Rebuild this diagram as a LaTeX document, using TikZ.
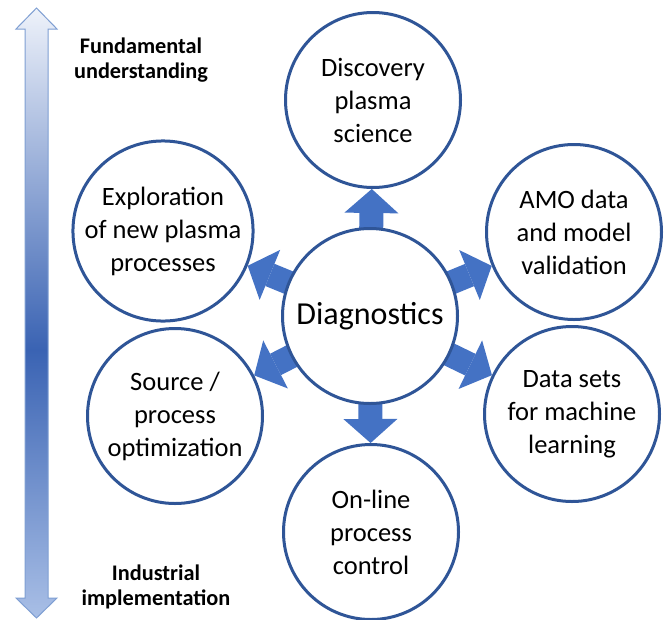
\documentclass[tikz,border=0pt]{standalone}
\usepackage{fontspec}
\setmainfont{Carlito}
\usetikzlibrary{arrows.meta}
\definecolor{ringblue}{HTML}{2F5597}
\definecolor{arrowblue}{HTML}{4472C4}
\definecolor{barA}{HTML}{EEF2FA}
\definecolor{barB}{HTML}{3A63B3}
\definecolor{barC}{HTML}{A9BFE6}
\definecolor{barline}{HTML}{7F9FD3}
\pgfdeclareverticalshading{leftbar}{100bp}{color(0bp)=(barC); color(25bp)=(barC); color(47bp)=(barB); color(75bp)=(barA); color(100bp)=(barA)}
\pgfdeclarelayer{bg}
\pgfsetlayers{bg,main}
\begin{document}
\begin{tikzpicture}[x=1pt,y=-1pt,
  ring/.style={circle,draw=ringblue,line width=3pt,fill=white,minimum size=175pt,inner sep=0pt,align=center,font=\fontsize{26.5}{33}\selectfont},
  blockarrow/.style={draw=arrowblue,line width=24pt,-{Triangle[width=54pt,length=24pt,line width=0pt]}},
  sidelabel/.style={align=center,font=\bfseries\fontsize{22.3}{25}\selectfont}]
\useasboundingbox (0,0) rectangle (666,619);

% side double arrow
\coordinate (topTip) at (36.5,8);
\coordinate (botTip) at (36.5,618);
\path[shading=leftbar, draw=barline, line width=1pt]
  (topTip) -- (57,29) -- (48,29) -- (48,598) -- (57,598) -- (botTip)
  -- (16,598) -- (25,598) -- (25,29) -- (16,29) -- cycle;

\node[sidelabel] (fund) at (141,60) {Fundamental\\understanding};
\node[sidelabel] (indu) at (156,587) {Industrial\\implementation};

% circles
\node[ring] (diag) at (370,316) {\fontsize{32}{36}\selectfont Diagnostics};
\node[ring] (top) at (373,100) {Discovery\\plasma\\science};
\node[ring] (ur) at (574,232) {AMO data\\and model\\validation};
\node[ring] (lr) at (572,414) {Data sets\\for machine\\learning};
\node[ring] (bot) at (371,532) {On-line\\process\\control};
\node[ring] (ll) at (175,416) {Source /\\process\\optimization};
\node[ring] (ul) at (163,231) {Exploration\\of new plasma\\processes};

% block arrows
\begin{pgfonlayer}{bg}
\fill[white] (0,0) rectangle (666,619);
\foreach \t in {top,ur,lr,bot,ll,ul}
  \draw[blockarrow] (diag.center) -- (\t);
\end{pgfonlayer}
\end{tikzpicture}
\end{document}
